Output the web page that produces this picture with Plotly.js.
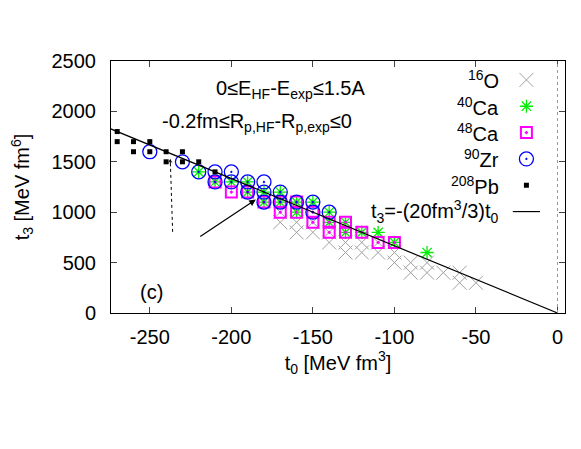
<!DOCTYPE html>
<html>
<head>
<meta charset="utf-8">
<script src="https://cdn.plot.ly/plotly-3.0.1.min.js"></script>
<style>
  body { margin: 0; background: #fff; }
  #plotArea { width: 581px; height: 449px; }
</style>
</head>
<body>
<div id="plotArea"></div>
<script>
// t0 [MeV fm^3] and t3 [MeV fm^6] of each parameter set
var o16T0 = [-170, -170, -160, -160, -150, -150, -140, -140, -130, -130, -120, -120, -110, -110, -100, -100, -90, -90, -80, -80, -70, -60, -60, -50];
var o16T3 = [1000, 900, 900, 800, 900, 800, 800, 700, 700, 600, 700, 600, 700, 600, 600, 500, 500, 400, 500, 400, 400, 400, 300, 300];

var ca40T0 = [-220, -210, -200, -190, -190, -180, -180, -170, -170, -160, -160, -150, -140, -140, -130, -130, -120, -110, -100, -80];
var ca40T3 = [1400, 1300, 1300, 1300, 1200, 1200, 1100, 1200, 1100, 1100, 1000, 1100, 1000, 900, 900, 800, 800, 800, 700, 600];

var ca48T0 = [-210, -200, -190, -180, -170, -170, -160, -160, -150, -150, -140, -140, -130, -130, -120, -110, -100];
var ca48T3 = [1300, 1200, 1200, 1100, 1100, 1000, 1100, 1000, 1000, 900, 900, 800, 900, 800, 800, 700, 700];

var zrT0 = [-250, -230, -220, -210, -210, -200, -200, -190, -190, -180, -180, -180, -170, -170, -160, -150, -150, -140];
var zrT3 = [1600, 1500, 1400, 1400, 1300, 1400, 1300, 1300, 1200, 1300, 1200, 1100, 1200, 1100, 1100, 1100, 1000, 1000];

var pbT0 = [-270, -270, -260, -260, -250, -250, -240, -240, -230, -230, -220, -210];
var pbT3 = [1800, 1700, 1700, 1600, 1700, 1600, 1600, 1500, 1600, 1500, 1500, 1400];

// t3 = -(20 fm^3 / 3) t0
var lineSlope = -20 / 3;
var lineT0 = [-280, 0];
var lineT3 = lineT0.map(function (v) { return lineSlope * v; });

var xTicks = [-250, -200, -150, -100, -50, 0];
var xTickText = ["-250", "-200", "-150", "-100", "-50", "0"];
var yTicks = [0, 500, 1000, 1500, 2000, 2500];

var legendNames = ["<sup>16</sup>O", "<sup>40</sup>Ca", "<sup>48</sup>Ca", "<sup>90</sup>Zr", "<sup>208</sup>Pb", "t<sub>3</sub>=-(20fm<sup>3</sup>/3)t<sub>0</sub>"];

var fnt = "Liberation Sans, Arial, sans-serif";

var styles = [
  {symbol: "x-thin-open", size: 14, color: "#a0a0a0", line: {color: "#a0a0a0", width: 1}},
  {symbol: "asterisk-open", size: 11, color: "#00ee00", line: {color: "#00ee00", width: 1.3}},
  {symbol: "square-open-dot", size: 11, color: "#ff00ff", line: {color: "#ff00ff", width: 2}},
  {symbol: "circle-open-dot", size: 14, color: "#0000ff", line: {color: "#0000ff", width: 1.3}},
  {symbol: "square", size: 5, color: "#000000", line: {width: 0}}
];

var series = [[o16T0, o16T3], [ca40T0, ca40T3], [ca48T0, ca48T3], [zrT0, zrT3], [pbT0, pbT3]];

var data = [];
series.forEach(function (s, i) {
  data.push({x: s[0], y: s[1], type: "scatter", mode: "markers", marker: styles[i], showlegend: false, hoverinfo: "skip"});
});
data.push({x: lineT0, y: lineT3, type: "scatter", mode: "lines", line: {color: "#000", width: 1.2}, showlegend: false});

// gnuplot style key: text on the left, sample on the right
var keyTop = 0.925, keyStep = 0.1045, keyTextX = 0.858, keySymX = 0.915;
var annotations = [];
legendNames.forEach(function (name, i) {
  var ky = keyTop - i * keyStep;
  annotations.push({xref: "paper", yref: "paper", x: keyTextX, y: ky, xanchor: "right", yanchor: "middle",
    text: name, showarrow: false, font: {family: fnt, size: 20, color: "#000"}});
  if (i < 5) {
    data.push({x: [keySymX], y: [ky], xaxis: "x2", yaxis: "y2", type: "scatter", mode: "markers",
      marker: styles[i], showlegend: false, hoverinfo: "skip"});
  } else {
    data.push({x: [keySymX - 0.03, keySymX + 0.03], y: [ky, ky], xaxis: "x2", yaxis: "y2", type: "scatter",
      mode: "lines", line: {color: "#000", width: 1.2}, showlegend: false, hoverinfo: "skip"});
  }
});

annotations.push(
  {xref: "paper", yref: "paper", x: 0.395, y: 0.885, xanchor: "center", yanchor: "middle", showarrow: false,
    text: "0≤E<sub>HF</sub>-E<sub>exp</sub>≤1.5A", font: {family: fnt, size: 20, color: "#000"}},
  {xref: "paper", yref: "paper", x: 0.322, y: 0.757, xanchor: "center", yanchor: "middle", showarrow: false,
    text: "-0.2fm≤R<sub>p,HF</sub>-R<sub>p,exp</sub>≤0", font: {family: fnt, size: 20, color: "#000"}},
  {xref: "paper", yref: "paper", x: 0.09, y: 0.085, xanchor: "center", yanchor: "middle", showarrow: false,
    text: "(c)", font: {family: fnt, size: 20, color: "#000"}},
  {xref: "x", yref: "y", axref: "x", ayref: "y", x: -185, y: 1125, ax: -220, ay: 750, text: "",
    showarrow: true, arrowhead: 2, arrowsize: 1.1, arrowwidth: 1.2, arrowcolor: "#000"},
  {xref: "x", yref: "y", axref: "x", ayref: "y", x: -237.5, y: 1530, ax: -237.3, ay: 1440, text: "",
    showarrow: true, arrowhead: 3, arrowsize: 0.8, arrowwidth: 1, arrowcolor: "#000"}
);

var layout = {
  width: 581,
  height: 449,
  margin: {l: 111, r: 16, t: 61, b: 136},
  paper_bgcolor: "#fff",
  plot_bgcolor: "#fff",
  font: {family: fnt, size: 20, color: "#000"},
  showlegend: false,
  xaxis: {
    range: [-273.8, 4.6], tickvals: xTicks, ticktext: xTickText, ticks: "inside", ticklen: 6,
    showline: true, mirror: "ticks", linecolor: "#000", linewidth: 1, showgrid: false, zeroline: false,
    ticklabelstandoff: 6,
    title: {text: "t<sub>0</sub> [MeV fm<sup>3</sup>]", font: {family: fnt, size: 20}, standoff: 8}
  },
  yaxis: {
    range: [0, 2500], tickvals: yTicks, ticks: "inside", ticklen: 6,
    showline: true, mirror: "ticks", linecolor: "#000", linewidth: 1, showgrid: false, zeroline: false,
    ticklabelstandoff: 10,
    title: {text: "t<sub>3</sub> [MeV fm<sup>6</sup>]", font: {family: fnt, size: 20}, standoff: 16}
  },
  xaxis2: {overlaying: "x", anchor: "y2", range: [0, 1], visible: false},
  yaxis2: {overlaying: "y", anchor: "x2", range: [0, 1], visible: false},
  shapes: [
    {type: "line", xref: "x", yref: "paper", x0: 0, x1: 0, y0: 0, y1: 1,
      line: {color: "#999", width: 1, dash: "dot"}},
    {type: "line", xref: "x", yref: "y", x0: -236, x1: -237.3, y0: 805, y1: 1450,
      line: {color: "#000", width: 1, dash: "dot"}}
  ],
  annotations: annotations
};

Plotly.newPlot("plotArea", data, layout, {staticPlot: true});
</script>
</body>
</html>
